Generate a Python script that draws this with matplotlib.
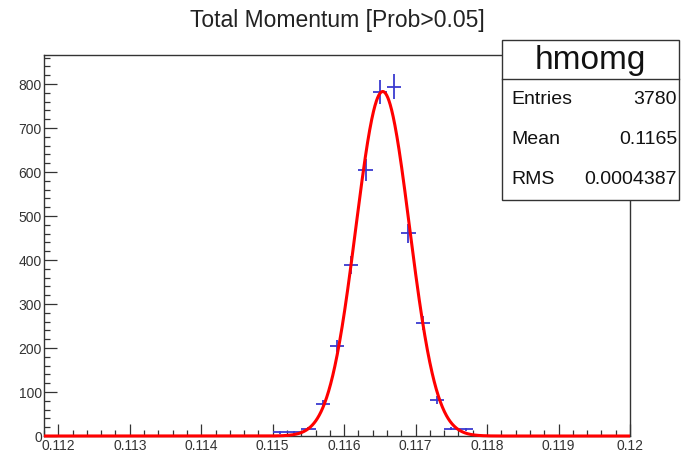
import numpy as np
import matplotlib
matplotlib.use("Agg")
import matplotlib.pyplot as plt
from matplotlib.patches import Rectangle
from matplotlib.ticker import MultipleLocator, FixedLocator

plt.rcParams['font.family'] = ['Liberation Sans', 'DejaVu Sans']

# Histogram contents (bin width 0.0002)
bin_centers = [0.1151, 0.1153, 0.1155, 0.1157, 0.1159, 0.1161, 0.1163, 0.1165,
               0.1167, 0.1169, 0.1171, 0.1173, 0.1175, 0.1177]
counts = [8, 8, 17, 73, 205, 389, 604, 782, 794, 461, 256, 82, 17, 15]
bin_width = 0.0002

# Gaussian fit parameters
fit_amp = 783.0
fit_mean = 0.11654
fit_sigma = 0.000375

x_range = (0.1118, 0.12)
y_max = 866
x_tick_values = [0.112, 0.113, 0.114, 0.115, 0.116, 0.117, 0.118, 0.119, 0.12]
x_tick_labels = ["0.112", "0.113", "0.114", "0.115", "0.116", "0.117", "0.118", "0.119", "0.12"]

title = "Total Momentum [Prob>0.05]"
stats_name = "hmomg"
stats_rows = [("Entries", "3780"), ("Mean", "0.1165"), ("RMS", "0.0004387")]

W, H = 681, 455
fig = plt.figure(figsize=(W / 100, H / 100), dpi=100)
ax = fig.add_axes([44 / W, 1 - 436 / H, (630 - 44) / W, (436 - 55) / H])

# data points with errors
xc = np.array(bin_centers)
yc = np.array(counts, dtype=float)
ax.errorbar(xc, yc, xerr=bin_width / 2, yerr=np.sqrt(yc), fmt='none',
            ecolor='#3a3ad0', elinewidth=1.3, capsize=0, zorder=3)

# fitted gaussian
xf = np.linspace(x_range[0], x_range[1], 2000)
yf = fit_amp * np.exp(-0.5 * ((xf - fit_mean) / fit_sigma) ** 2)
ax.plot(xf, yf, color='#ff0000', lw=2.2, zorder=4, clip_on=False,
        solid_capstyle='butt')

ax.set_xlim(*x_range)
ax.set_ylim(0, y_max)

ax.xaxis.set_major_locator(FixedLocator(x_tick_values))
ax.set_xticklabels(x_tick_labels)
ax.xaxis.set_minor_locator(MultipleLocator(0.0002))
ax.yaxis.set_major_locator(MultipleLocator(100))
ax.yaxis.set_minor_locator(MultipleLocator(20))

ax.tick_params(axis='both', which='both', direction='in', top=False, right=False,
               color='#333333', width=0.9)
ax.tick_params(axis='both', which='major', length=9, labelsize=10, labelcolor='#333333')
ax.tick_params(axis='both', which='minor', length=4.5)
ax.tick_params(axis='x', which='major', pad=2.5)
ax.tick_params(axis='y', which='major', pad=1.5)

for s in ax.spines.values():
    s.set_color('#333333')
    s.set_linewidth(1.0)

fig.text(337 / W, 1 - 21 / H, title, ha='center', va='center', fontsize=16.5,
         color='#222222')

# statistics box
bx0, bx1, by0, by1, bdiv = 502, 679, 40, 200, 79
box = Rectangle((bx0 / W, 1 - by1 / H), (bx1 - bx0) / W, (by1 - by0) / H,
                transform=fig.transFigure, facecolor='white', edgecolor='#333333',
                lw=1.0, zorder=10)
fig.add_artist(box)
fig.add_artist(plt.Line2D([bx0 / W, bx1 / W], [1 - bdiv / H, 1 - bdiv / H],
                          transform=fig.transFigure, color='#333333', lw=1.0, zorder=11))
fig.text((bx0 + bx1) / 2 / W, 1 - 60 / H, stats_name, ha='center', va='center',
         fontsize=24, color='#111111', zorder=12)
for i, (lab, val) in enumerate(stats_rows):
    yy = 1 - (100 + 40 * i) / H
    fig.text(511 / W, yy, lab, ha='left', va='center', fontsize=14,
             color='#111111', zorder=12)
    fig.text(677 / W, yy, val, ha='right', va='center', fontsize=14,
             color='#111111', zorder=12)

fig.savefig("out.png", dpi=100, facecolor='white')
